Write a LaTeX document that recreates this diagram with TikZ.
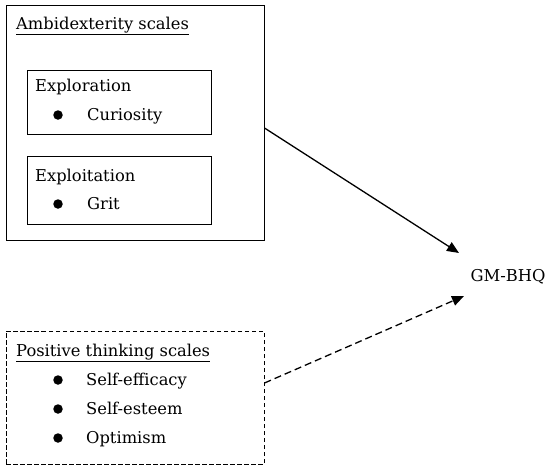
\documentclass[tikz,border=0pt]{standalone}
\usepackage{fontspec}
\setmainfont{DejaVu Serif}
\usetikzlibrary{arrows.meta}
\begin{document}
\begin{tikzpicture}[x=1pt,y=-1pt,
  box/.style={draw,line width=1pt,inner sep=0pt},
  dbox/.style={draw,line width=1pt,inner sep=0pt,dash pattern=on 4.5pt off 2.5pt},
  txt/.style={anchor=base west,inner sep=0pt,font=\fontsize{16.3}{19}\selectfont},
  dot/.style={circle,fill=black,inner sep=0pt,minimum size=9.5pt},
  arr/.style={line width=1.3pt,-{Triangle[length=12pt,width=10pt]}}]
\useasboundingbox (0,0) rectangle (550,472);
% boxes
\node[box,minimum width=258pt,minimum height=235pt] (amb) at (135,122.5) {};
\node[box,minimum width=184pt,minimum height=64pt] (explr) at (119,102) {};
\node[box,minimum width=184pt,minimum height=68pt] (explt) at (119,190) {};
\node[dbox,minimum width=258pt,minimum height=133pt] (pos) at (135,397.5) {};
% texts
\node[txt] (t1) at (16,29) {\underline{Ambidexterity scales}};
\node[txt] (t2) at (35,91) {Exploration};
\node[dot] (d1) at (58,115) {};
\node[txt] (t3) at (87,120) {Curiosity};
\node[txt] (t4) at (35,181) {Exploitation};
\node[dot] (d2) at (58,204) {};
\node[txt] (t5) at (87,209) {Grit};
\node[txt] (t6) at (16,356) {\underline{Positive thinking scales}};
\node[dot] (d3) at (58,380) {};
\node[txt] (t7) at (86,385) {Self-efficacy};
\node[dot] (d4) at (58,409) {};
\node[txt] (t8) at (86,414) {Self-esteem};
\node[dot] (d5) at (58,438) {};
\node[txt] (t9) at (86,443) {Optimism};
\node[inner sep=0pt,font=\fontsize{16.3}{19}\selectfont] (gm) at (508,277) {GM-BHQ};
% arrows
\coordinate (a1s) at (264.5,128);
\coordinate (a1e) at (459,253);
\coordinate (a2s) at (264.5,383);
\coordinate (a2e) at (464,296);
\draw[arr] (a1s) -- (a1e);
\draw[arr,dash pattern=on 7pt off 4pt] (a2s) -- (a2e);
\end{tikzpicture}
\end{document}
